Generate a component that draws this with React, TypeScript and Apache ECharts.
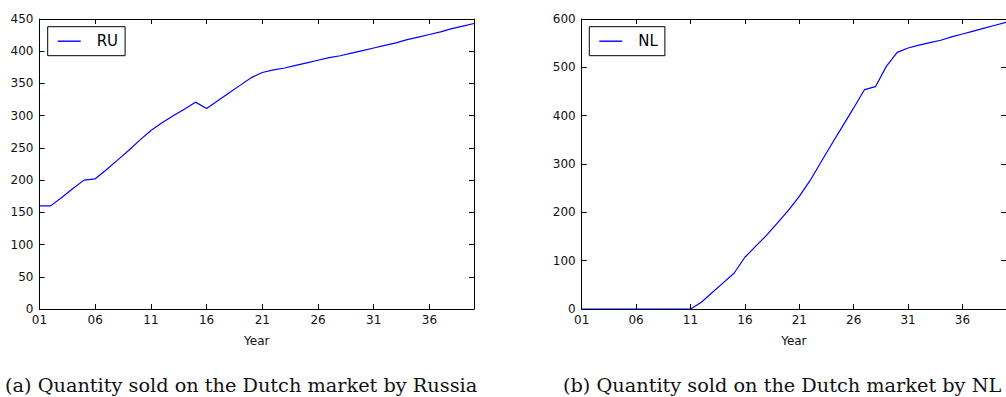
import React, { useEffect, useRef } from "react";
import * as echarts from "echarts";

const years = [
  "01", "02", "03", "04", "05", "06", "07", "08", "09", "10",
  "11", "12", "13", "14", "15", "16", "17", "18", "19", "20",
  "21", "22", "23", "24", "25", "26", "27", "28", "29", "30",
  "31", "32", "33", "34", "35", "36", "37", "38", "39", "40",
];

const ruValues = [
  160, 160, 173, 187, 200, 202, 216, 231, 246, 262,
  277, 289, 300, 310, 321, 311, 323, 335, 347, 359,
  367, 371, 374, 378, 382, 386, 390, 393, 397, 401,
  405, 409, 413, 418, 422, 426, 430, 435, 439, 443,
];

const nlValues = [
  0, 0, 0, 0, 0, 0, 0, 0, 0, 0,
  0, 14, 34, 54, 74, 107, 130, 153, 178, 204,
  233, 266, 304, 342, 379, 416, 454, 460, 502, 531,
  540, 546, 551, 556, 563, 569, 575, 581, 587, 593,
];

const ruAxis = { min: 0, max: 450, interval: 50 };
const nlAxis = { min: 0, max: 600, interval: 100 };

const captionA = "(a) Quantity sold on the Dutch market by Russia";
const captionB = "(b) Quantity sold on the Dutch market by NL";

const LINE_COLOR = "#0000ff";
const AXIS_COLOR = "#000000";
const LABEL_FONT = "DejaVu Sans";

function xAxes(gridIndex: number) {
  const common = {
    type: "category" as const,
    gridIndex,
    data: years,
    boundaryGap: false,
    axisLine: { show: true, onZero: false, lineStyle: { color: AXIS_COLOR, width: 1 } },
    axisTick: { show: true, inside: true, length: 5, interval: 4, lineStyle: { color: AXIS_COLOR } },
    splitLine: { show: false },
  };
  return [
    {
      ...common,
      position: "bottom",
      name: "Year",
      nameLocation: "middle",
      nameGap: 26,
      nameTextStyle: { fontFamily: LABEL_FONT, fontSize: 12, color: "#111" },
      axisLabel: { show: true, interval: 4, margin: 5, fontFamily: LABEL_FONT, fontSize: 12, color: "#111" },
    },
    {
      ...common,
      position: "top",
      axisLabel: { show: false },
    },
  ];
}

function yAxes(gridIndex: number, ax: { min: number; max: number; interval: number }) {
  const common = {
    type: "value" as const,
    gridIndex,
    min: ax.min,
    max: ax.max,
    interval: ax.interval,
    axisLine: { show: true, onZero: false, lineStyle: { color: AXIS_COLOR, width: 1 } },
    axisTick: { show: true, inside: true, length: 5, lineStyle: { color: AXIS_COLOR } },
    splitLine: { show: false },
  };
  return [
    {
      ...common,
      position: "left",
      axisLabel: { show: true, margin: 6, fontFamily: LABEL_FONT, fontSize: 12, color: "#111" },
    },
    {
      ...common,
      position: "right",
      axisLabel: { show: false },
    },
  ];
}

function legendFor(name: string, left: number) {
  return {
    data: [{ name, icon: "rect" }],
    left,
    top: 26.7,
    orient: "horizontal",
    itemWidth: 23,
    itemHeight: 1.4,
    itemGap: 0,
    padding: [7, 7, 7, 10],
    borderColor: "#000",
    borderWidth: 1,
    borderRadius: 0,
    backgroundColor: "#fff",
    textStyle: {
      fontFamily: LABEL_FONT,
      fontSize: 15,
      lineHeight: 15,
      color: "#000",
      padding: [0, 0, 0, 11],
    },
  };
}

export default function App() {
  const ref = useRef<HTMLDivElement>(null);

  useEffect(() => {
    if (!ref.current) return;
    const chart = echarts.init(ref.current, undefined, { renderer: "svg" });
    const xa = [...xAxes(0), ...xAxes(1)];
    const ya = [...yAxes(0, ruAxis), ...yAxes(1, nlAxis)];
    chart.setOption({
      animation: false,
      backgroundColor: "#fff",
      grid: [
        { left: 39.5, top: 19, width: 434.5, height: 290 },
        { left: 581.7, top: 19, width: 434.1, height: 290 },
      ],
      xAxis: xa,
      yAxis: ya,
      legend: [legendFor("RU", 47.7), legendFor("NL", 589.3)],
      series: [
        {
          name: "RU",
          type: "line",
          xAxisIndex: 0,
          yAxisIndex: 0,
          data: ruValues,
          symbol: "none",
          lineStyle: { color: LINE_COLOR, width: 1.2 },
          itemStyle: { color: LINE_COLOR },
        },
        {
          name: "NL",
          type: "line",
          xAxisIndex: 2,
          yAxisIndex: 2,
          data: nlValues,
          symbol: "none",
          lineStyle: { color: LINE_COLOR, width: 1.2 },
          itemStyle: { color: LINE_COLOR },
        },
      ],
      graphic: [
        {
          type: "text",
          x: 5,
          y: 385.5,
          style: {
            text: captionA,
            fontFamily: "DejaVu Serif",
            fontSize: 19.3,
            fill: "#111",
            verticalAlign: "middle",
            align: "left",
          },
        },
        {
          type: "text",
          x: 563,
          y: 385.5,
          style: {
            text: captionB,
            fontFamily: "DejaVu Serif",
            fontSize: 19.3,
            fill: "#111",
            verticalAlign: "middle",
            align: "left",
          },
        },
      ],
    });
    return () => chart.dispose();
  }, []);

  return (
    <div
      ref={ref}
      style={{ position: "absolute", left: 0, top: 0, width: 1006, height: 397 }}
    />
  );
}
